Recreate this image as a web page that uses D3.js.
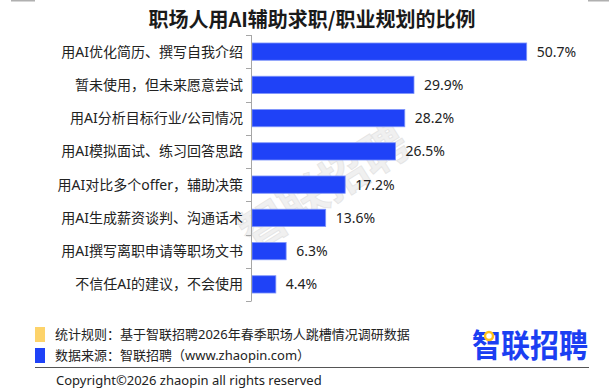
<!DOCTYPE html>
<html>
<head>
<meta charset="utf-8">
<script src="https://cdn.jsdelivr.net/npm/d3@7"></script>
<style>
  body { margin: 0; background: #fff; }
  text { font-family: "Noto Sans", "Noto Sans CJK SC", sans-serif; }
</style>
</head>
<body>
<div id="chart"></div>
<script>
const categories = [
  "用AI优化简历、撰写自我介绍",
  "暂未使用，但未来愿意尝试",
  "用AI分析目标行业/公司情况",
  "用AI模拟面试、练习回答思路",
  "用AI对比多个offer，辅助决策",
  "用AI生成薪资谈判、沟通话术",
  "用AI撰写离职申请等职场文书",
  "不信任AI的建议，不会使用"
];
const values = [50.7, 29.9, 28.2, 26.5, 17.2, 13.6, 6.3, 4.4];

const title = "职场人用AI辅助求职/职业规划的比例";
const noteLines = [
  "统计规则：基于智联招聘2026年春季职场人跳槽情况调研数据",
  "数据来源：智联招聘（www.zhaopin.com）"
];
const copyright = "Copyright©2026 zhaopin all rights reserved";
const brand = "智联招聘";

const width = 609, height = 391;
const blue = "#1f42f7";

const svg = d3.select("#chart").append("svg")
  .attr("width", width)
  .attr("height", height);

// page corner marks
svg.append("rect").attr("x", 11).attr("y", 0).attr("width", 24).attr("height", 1.5).attr("fill", "#b0b0b0");
svg.append("rect").attr("x", 588).attr("y", 0).attr("width", 21).attr("height", 1.5).attr("fill", "#b0b0b0");

// watermark behind the bars
svg.append("text")
  .attr("transform", "translate(324,188) rotate(-32)")
  .attr("text-anchor", "middle")
  .attr("dy", "0.35em")
  .style("font-family", "'Noto Sans CJK SC'")
  .style("font-size", "47px")
  .style("font-weight", "bold")
  .attr("fill", "#f0f0f0")
  .attr("stroke", "#e4e4e4")
  .attr("stroke-width", 0.8)
  .text(brand);

// title
svg.append("text")
  .attr("x", 312)
  .attr("y", 27)
  .attr("text-anchor", "middle")
  .style("font-family", "'Noto Sans CJK SC'")
  .style("font-size", "20px")
  .style("font-weight", "bold")
  .attr("fill", "#1a1a1a")
  .text(title);

// scales
const axisX = 251;
const y = d3.scaleBand()
  .domain(categories)
  .range([35, 301])
  .paddingInner(0.48)
  .paddingOuter(0.24);

const x = d3.scaleLinear()
  .domain([0, 60])
  .range([252, 252 + 60 * 5.418]);

// bars
svg.append("g")
  .selectAll("rect")
  .data(values)
  .join("rect")
    .attr("x", x(0))
    .attr("y", (d, i) => y(categories[i]))
    .attr("width", d => x(d) - x(0))
    .attr("height", y.bandwidth())
    .attr("fill", blue)
    .attr("stroke", "#7f95fa")
    .attr("stroke-width", 0.8);

// value labels
svg.append("g")
  .selectAll("text")
  .data(values)
  .join("text")
    .attr("x", d => x(d) + 10)
    .attr("y", (d, i) => y(categories[i]) + y.bandwidth() / 2)
    .attr("dy", "0.36em")
    .style("font-size", "14px")
    .attr("fill", "#222")
    .text(d => d.toFixed(1) + "%");

// category axis: line + ticks at band edges
const step = y.step();
const y0 = y.range()[0];
const axisG = svg.append("g").attr("stroke", "#a6a6a6").attr("stroke-width", 1);
axisG.append("line")
  .attr("x1", axisX + 0.5).attr("x2", axisX + 0.5)
  .attr("y1", y0).attr("y2", y.range()[1]);
axisG.selectAll("line.tick")
  .data(d3.range(categories.length + 1))
  .join("line")
    .attr("class", "tick")
    .attr("x1", axisX - 5).attr("x2", axisX + 0.5)
    .attr("y1", i => Math.round(y0 + i * step) + 0.5)
    .attr("y2", i => Math.round(y0 + i * step) + 0.5);

svg.append("g")
  .selectAll("text")
  .data(categories)
  .join("text")
    .attr("x", 243)
    .attr("y", d => y(d) + y.bandwidth() / 2)
    .attr("dy", "0.36em")
    .attr("text-anchor", "end")
    .style("font-size", "14px")
    .attr("fill", "#222")
    .text(d => d);

// footer notes
const noteColors = ["#fdd36a", blue];
noteLines.forEach((t, i) => {
  const cy = 334 + i * 21;
  svg.append("rect")
    .attr("x", 35).attr("y", cy - 7)
    .attr("width", 10).attr("height", 15)
    .attr("fill", noteColors[i]);
  svg.append("text")
    .attr("x", 55).attr("y", cy)
    .attr("dy", "0.36em")
    .style("font-size", "13px")
    .attr("fill", "#222")
    .text(t);
});

// brand logo
svg.append("text")
  .attr("transform", "translate(472,357) scale(1,1.1)")
  .style("font-family", "'Noto Sans CJK SC'")
  .style("font-size", "29px")
  .style("font-weight", "bold")
  .attr("fill", "#1b3ff2")
  .text(brand);
svg.append("circle")
  .attr("cx", 489).attr("cy", 336).attr("r", 4)
  .attr("fill", "#fff")
  .attr("stroke", "#ffc21a")
  .attr("stroke-width", 2.5);

// rule and copyright
svg.append("line")
  .attr("x1", 35).attr("x2", 589)
  .attr("y1", 367.5).attr("y2", 367.5)
  .attr("stroke", "#555").attr("stroke-width", 1);

svg.append("text")
  .attr("x", 56).attr("y", 385)
  .style("font-size", "13px")
  .attr("fill", "#222")
  .text(copyright);
</script>
</body>
</html>
